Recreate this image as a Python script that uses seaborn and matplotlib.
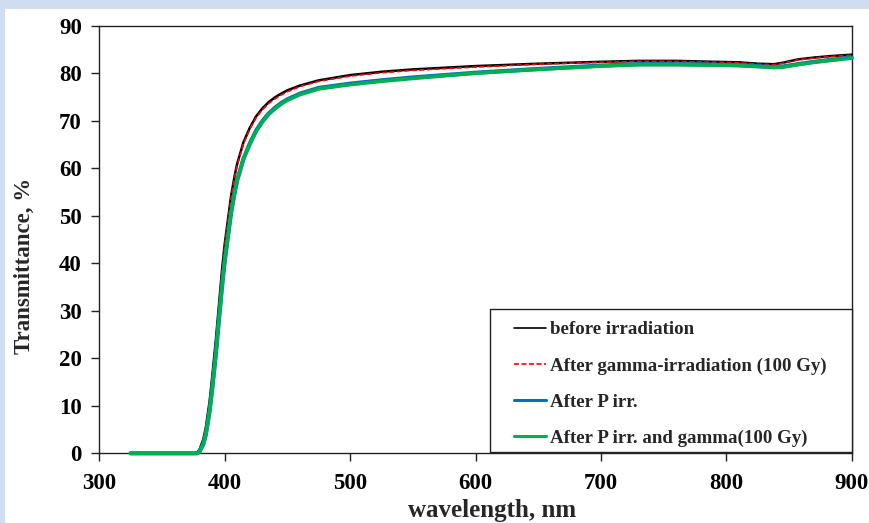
import numpy as np
import pandas as pd
import matplotlib
matplotlib.use("Agg")
import matplotlib.pyplot as plt
from matplotlib.patches import Rectangle
import seaborn as sns

# ---- data ----
wavelength = [325, 350, 375, 378, 380, 383, 385, 388, 390, 393, 395, 398, 400, 403,
              405, 408, 410, 415, 420, 425, 430, 435, 440, 445, 450, 460, 475, 500, 525, 550,
              600, 650, 700, 730, 760, 790, 810, 825, 838, 845, 857, 870, 883, 900]

before_irr = [0, 0, 0, 0.2, 0.8, 3.0, 5.5, 11.0, 16.0, 24.0, 30.0, 39.0, 44.0, 50.0,
              54.0, 58.5, 61.0, 65.5, 68.5, 70.9, 72.6, 73.9, 74.9, 75.7, 76.4, 77.4, 78.5, 79.6, 80.3, 80.8,
              81.5, 82.0, 82.4, 82.6, 82.6, 82.4, 82.3, 82.0, 81.9, 82.2, 82.9, 83.3, 83.6, 83.9]

after_gamma = [0, 0, 0, 0.1, 0.7, 2.8, 5.2, 10.6, 15.6, 23.5, 29.5, 38.5, 43.6, 49.6,
               53.6, 58.2, 60.7, 65.2, 68.2, 70.6, 72.3, 73.6, 74.6, 75.4, 76.1, 77.2, 78.3, 79.4, 80.1, 80.6,
               81.3, 81.9, 82.3, 82.5, 82.5, 82.3, 82.2, 81.9, 81.8, 82.1, 82.8, 83.2, 83.5, 83.8]

after_p = [0, 0, 0, 0, 0.4, 2.0, 4.0, 9.0, 13.5, 21.0, 27.0, 35.5, 40.5, 46.5,
           50.5, 55.0, 57.5, 62.0, 65.2, 67.9, 69.9, 71.5, 72.7, 73.7, 74.5, 75.7, 76.9, 77.8, 78.5, 79.1,
           80.1, 80.9, 81.6, 81.9, 81.9, 81.8, 81.7, 81.5, 81.3, 81.4, 81.9, 82.4, 82.8, 83.3]

after_p_gamma = [0, 0, 0, 0, 0.4, 2.0, 4.0, 9.0, 13.5, 21.0, 27.0, 35.5, 40.5, 46.5,
                 50.5, 55.0, 57.5, 62.0, 65.0, 67.7, 69.7, 71.3, 72.5, 73.5, 74.3, 75.5, 76.7, 77.6, 78.3, 78.9,
                 80.0, 80.8, 81.5, 81.8, 81.8, 81.7, 81.6, 81.4, 81.2, 81.3, 81.8, 82.3, 82.7, 83.2]

series_names = ["before irradiation",
                "After gamma-irradiation (100 Gy)",
                "After P irr.",
                "After P irr. and gamma(100 Gy)"]
series_values = [before_irr, after_gamma, after_p, after_p_gamma]

x_ticks = [300, 400, 500, 600, 700, 800, 900]
y_ticks = [0, 10, 20, 30, 40, 50, 60, 70, 80, 90]

# ---- build a long table ----
frames = []
for name, vals in zip(series_names, series_values):
    frames.append(pd.DataFrame({"wavelength": wavelength, "T": vals, "series": name}))
df = pd.concat(frames, ignore_index=True)

sns.set_style("ticks")
plt.rcParams["font.family"] = ["Liberation Serif", "DejaVu Serif"]
plt.rcParams["font.weight"] = "bold"

W, H = 870, 523
fig = plt.figure(figsize=(8.7, 5.23), dpi=100)
fig.patch.set_facecolor("white")
# slide background strips (top and left)
fig.add_artist(Rectangle((0, 1 - 9 / H), 1, 9 / H, transform=fig.transFigure,
                         facecolor="#d0ddf1", edgecolor="none", zorder=0))
fig.add_artist(Rectangle((0, 0), 5 / W, 1, transform=fig.transFigure,
                         facecolor="#d0ddf1", edgecolor="none", zorder=0))

L, R, T, B = 99.3, 851.7, 25.7, 453.3
ax = fig.add_axes([L / W, 1 - B / H, (R - L) / W, (B - T) / H])


def ax_x(px):
    return (px - L) / (R - L)


def ax_y(py):
    return (B - py) / (B - T)


palette = {series_names[0]: "#000000",
           series_names[1]: "#ff0000",
           series_names[2]: "#0070c0",
           series_names[3]: "#00b050"}
styles = {series_names[0]: dict(lw=1.8, ls="-"),
          series_names[1]: dict(lw=1.2, ls=(0, (3, 1.5))),
          series_names[2]: dict(lw=3.0, ls="-"),
          series_names[3]: dict(lw=2.6, ls="-")}

for name in series_names:
    sub = df[df["series"] == name]
    sns.lineplot(data=sub, x="wavelength", y="T", ax=ax, color=palette[name],
                 label=name, linewidth=styles[name]["lw"], linestyle=styles[name]["ls"],
                 clip_on=False, zorder=3)

ax.set_xlim(300, 900)
ax.set_ylim(0, 90)
ax.set_xticks(x_ticks)
ax.set_yticks(y_ticks)
ax.set_xticklabels([str(v) for v in x_ticks])
ax.set_yticklabels([str(v) for v in y_ticks])
for s in ax.spines.values():
    s.set_visible(True)
    s.set_color("#222222")
    s.set_linewidth(1.0)
ax.tick_params(axis="both", direction="out", length=5.5, width=1.0, colors="#222222",
               labelcolor="black", labelsize=16.5, pad=7)
ax.tick_params(axis="x", pad=8.5)
for lab in ax.get_xticklabels() + ax.get_yticklabels():
    lab.set_fontweight("bold")

ax.set_xlabel("wavelength, nm", fontsize=18, fontweight="bold")
ax.xaxis.set_label_coords(ax_x(492), ax_y(499))
ax.set_ylabel("Transmittance, %", fontsize=16.5, fontweight="bold")
ax.yaxis.set_label_coords(ax_x(35), ax_y(266))

# legend: frame drawn separately to match the reference box
ax.add_patch(Rectangle((ax_x(490), ax_y(452)), ax_x(851.7) - ax_x(490), ax_y(309) - ax_y(452),
                       transform=ax.transAxes, facecolor="white", edgecolor="#222222",
                       linewidth=1.0, zorder=5, clip_on=False))
leg = ax.legend(loc="lower left", bbox_to_anchor=(ax_x(514), ax_y(447)), frameon=False,
                prop={"family": "Liberation Serif", "weight": "bold", "size": 13.6},
                handlelength=1.7, handletextpad=0.2, labelspacing=1.0,
                borderpad=0, borderaxespad=0)
leg.set_zorder(6)
for h in leg.get_lines():
    h.set_linewidth(2.2 if h.get_color() in ("#0070c0", "#00b050") else 1.2)

fig.savefig("out.png", dpi=100)
